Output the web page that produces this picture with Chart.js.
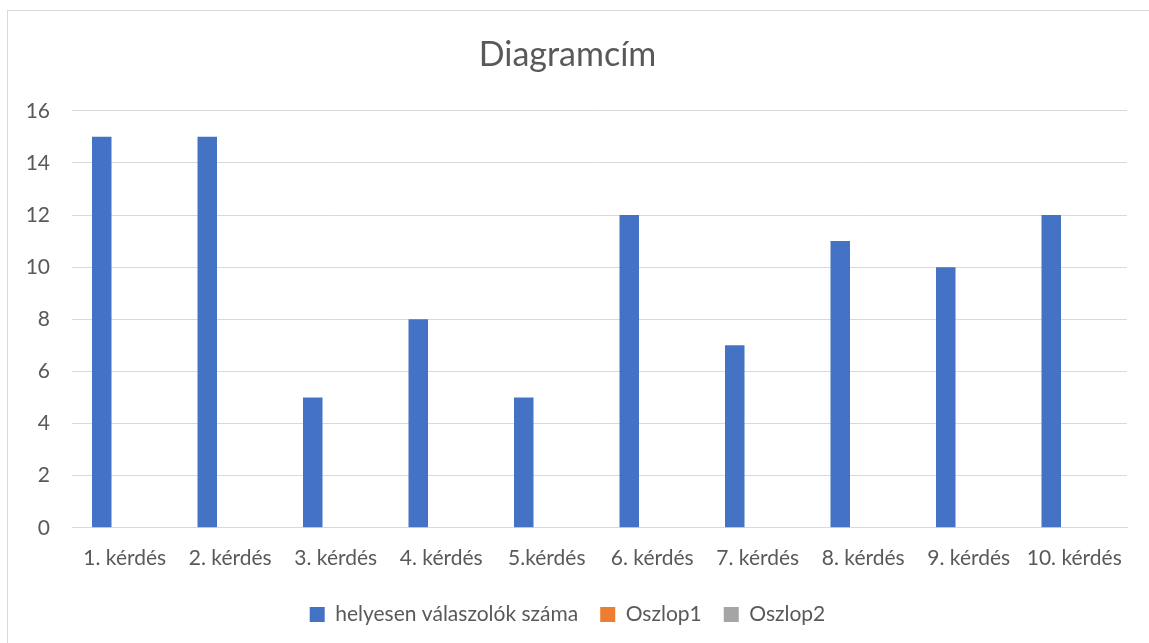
<!DOCTYPE html>
<html>
<head>
<meta charset="utf-8">
<script src="https://cdn.jsdelivr.net/npm/chart.js@4.4.0/dist/chart.umd.min.js"></script>
<style>
    body { margin: 0; background: #fff; overflow: hidden; }
    #wrap {
        position: absolute;
        left: 7px;
        top: 10px;
        width: 1170px;
        height: 645px;
        border: 1px solid #d9d9d9;
        box-sizing: border-box;
    }
    canvas { display: block; }
</style>
</head>
<body>
<div id="wrap"><canvas id="chart" width="1150" height="632"></canvas></div>
<script>
const categories = ['1. kérdés', '2. kérdés', '3. kérdés', '4. kérdés', '5.kérdés',
                    '6. kérdés', '7. kérdés', '8. kérdés', '9. kérdés', '10. kérdés'];
const correctAnswers = [15, 15, 5, 8, 5, 12, 7, 11, 10, 12];
const oszlop1 = [null, null, null, null, null, null, null, null, null, null];
const oszlop2 = [null, null, null, null, null, null, null, null, null, null];

const textColor = '#595959';
const gridColor = '#d9d9d9';
const fontFamily = 'Lato, "Open Sans", sans-serif';

const ctx = document.getElementById('chart').getContext('2d');
window.mainChart = new Chart(ctx, {
    type: 'bar',
    data: {
        labels: categories,
        datasets: [
            { label: 'helyesen válaszolók száma', data: correctAnswers, backgroundColor: '#4472c4' },
            { label: 'Oszlop1', data: oszlop1, backgroundColor: '#ed7d31' },
            { label: 'Oszlop2', data: oszlop2, backgroundColor: '#a5a5a5' }
        ]
    },
    options: {
        responsive: false,
        animation: false,
        datasets: {
            bar: {
                categoryPercentage: 0.654,
                barPercentage: 0.848
            }
        },
        layout: {
            padding: { left: 0, right: 31, top: 0, bottom: 8 }
        },
        plugins: {
            title: {
                display: true,
                text: 'Diagramcím',
                color: textColor,
                font: { family: fontFamily, size: 34, weight: 'normal' },
                padding: { top: 24, bottom: 35 }
            },
            legend: {
                position: 'bottom',
                labels: {
                    color: textColor,
                    font: { family: fontFamily, size: 21 },
                    boxWidth: 15,
                    boxHeight: 15,
                    padding: 22
                }
            },
            tooltip: { enabled: false }
        },
        scales: {
            x: {
                // let the labels hang a bit into the legend gap, like Excel does
                afterFit: function(scale) { scale.height -= 7; },
                grid: { display: false, drawTicks: false },
                border: { color: gridColor, width: 1 },
                ticks: {
                    color: textColor,
                    font: { family: fontFamily, size: 21 },
                    padding: 18,
                    maxRotation: 0
                }
            },
            y: {
                min: 0,
                max: 16,
                afterFit: function(scale) { scale.width = 64; },
                grid: { color: gridColor, drawTicks: false },
                border: { display: false },
                ticks: {
                    stepSize: 2,
                    color: textColor,
                    font: { family: fontFamily, size: 21 },
                    padding: 22
                }
            }
        }
    }
});
</script>
</body>
</html>
